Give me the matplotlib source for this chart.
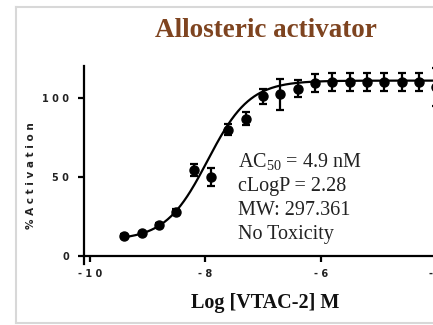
import numpy as np
import matplotlib.pyplot as plt
from matplotlib.lines import Line2D

# Dose-response data (2-fold dilutions, log molar)
log_conc = [-9.4, -9.1, -8.8, -8.5, -8.2, -7.9, -7.6, -7.3, -7.0, -6.7,
            -6.4, -6.1, -5.8, -5.5, -5.2, -4.9, -4.6, -4.3, -4.0]
activation = [12.7, 14.4, 19.6, 28.0, 54.4, 49.8, 80.0, 87.0, 101.0, 102.3,
              106.0, 109.7, 110.0, 110.0, 110.0, 110.0, 110.0, 110.0, 107.0]
activation_err = [1.0, 1.0, 1.5, 2.0, 4.0, 5.6, 3.5, 3.9, 4.5, 10.0,
                  5.3, 5.8, 5.8, 5.8, 5.8, 5.8, 5.8, 5.8, 12.0]

# four-parameter logistic fit
fit_bottom = 10.0
fit_top = 111.0
fit_log_ec50 = -7.96
fit_hill = 1.19

x_ticks = [-10, -8, -6, -4]
y_ticks = [0, 50, 100]
annot_lines = [r"AC$_{\mathregular{50}}$ = 4.9 nM", "cLogP = 2.28",
               "MW: 297.361", "No Toxicity"]

W, H = 433, 325
fig = plt.figure(figsize=(W / 100, H / 100), dpi=100)
ax = fig.add_axes([84 / W, 1 - 263.9 / H, 364 / W, 197.5 / H])

xs = np.linspace(log_conc[0], -3.8, 300)
ys = fit_bottom + (fit_top - fit_bottom) / (1 + 10 ** ((fit_log_ec50 - xs) * fit_hill))
ax.plot(xs, ys, color='black', lw=1.6, zorder=2)
ax.errorbar(log_conc, activation, yerr=activation_err, fmt='o', color='black',
            ms=6.5, elinewidth=1.6, capsize=3.2, capthick=1.6, zorder=3)

ax.set_xlim(-10.1, -3.8)
ax.set_ylim(-5, 120)
for s in ['top', 'right']:
    ax.spines[s].set_visible(False)
ax.spines['bottom'].set_position(('data', 0))
for s in ['left', 'bottom']:
    ax.spines[s].set_linewidth(1.6)

ax.set_xticks(x_ticks)
ax.set_xticklabels([" ".join(str(t)) for t in x_ticks])
ax.set_yticks(y_ticks)
ax.set_yticklabels([" ".join(str(t)) for t in y_ticks])
ax.tick_params(length=4.3, width=1.6, labelsize=7)
ax.tick_params(axis='y', pad=6.5)
ax.tick_params(axis='x', pad=5)
for lab in ax.get_xticklabels() + ax.get_yticklabels():
    lab.set_fontweight('bold')
    lab.set_color('#222222')

fig.text(31 / W, 1 - 176 / H, "% A c t i v a t i o n", rotation=90,
         fontsize=7.5, fontweight='bold', color='#222222',
         ha='center', va='center')

serif = ['Liberation Serif', 'DejaVu Serif']
plt.rcParams['mathtext.fontset'] = 'custom'
plt.rcParams['mathtext.rm'] = 'Liberation Serif'
ax.set_title("Allosteric activator", family=serif, fontsize=19.5,
             fontweight='bold', color='#7e4420', pad=21)
fig.text(265 / W, 1 - 308 / H, "Log [VTAC-2] M", family=serif, fontsize=14.5,
         fontweight='bold', ha='center', va='baseline', color='#111111')

for i, line in enumerate(annot_lines):
    fig.text(238 / W, 1 - (168 + 23.5 * i) / H, line, family=serif,
             fontsize=14.5, ha='left', va='baseline', color='#222222')

# light panel frame
frame = dict(color='#d8d8d8', lw=1.5, transform=fig.transFigure)
fig.add_artist(Line2D([16 / W, 16 / W], [1 - 7 / H, 1 - 323 / H], **frame))
fig.add_artist(Line2D([16 / W, 1], [1 - 7 / H, 1 - 7 / H], **frame))
fig.add_artist(Line2D([16 / W, 1], [1 - 323 / H, 1 - 323 / H], **frame))

fig.savefig("out.png", dpi=100)
